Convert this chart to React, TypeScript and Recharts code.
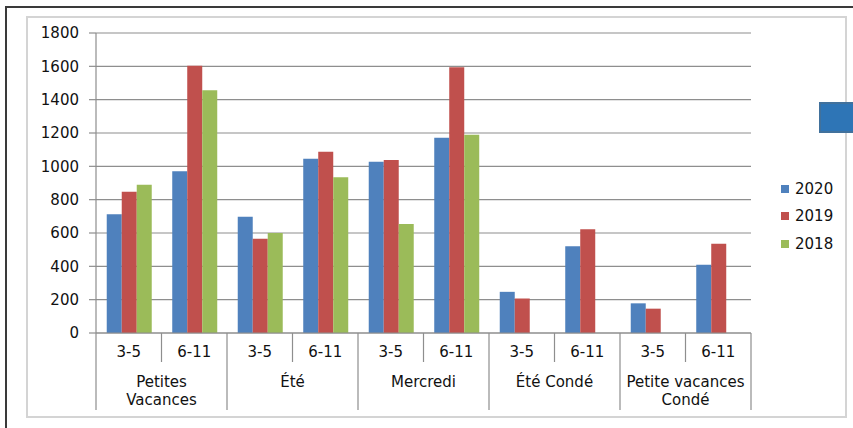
import React from 'react';
import { BarChart, Bar, XAxis, YAxis, CartesianGrid, Legend } from 'recharts';

const ages = ['3-5', '6-11', '3-5', '6-11', '3-5', '6-11', '3-5', '6-11', '3-5', '6-11'];
const groups = ['Petites\nVacances', 'Été', 'Mercredi', 'Été Condé', 'Petite vacances\nCondé'];
const v2020 = [712, 970, 698, 1046, 1027, 1172, 247, 520, 178, 409];
const v2019 = [848, 1603, 565, 1088, 1038, 1594, 207, 622, 146, 535];
const v2018 = [890, 1457, 600, 934, 654, 1190, null, null, null, null];
const yTicks = [0, 200, 400, 600, 800, 1000, 1200, 1400, 1600, 1800];
const seriesOrder = ['2020', '2019', '2018'];

const data = ages.map((age, i) => ({
  age,
  '2020': v2020[i],
  '2019': v2019[i],
  '2018': v2018[i],
}));

const W = 853;
const H = 428;
const M = { top: 33, right: 102, bottom: 15, left: 36 };
const Y_AXIS_W = 60;
const PLOT_W = W - M.left - M.right - Y_AXIS_W;
const BAND = PLOT_W / ages.length;

const FONT = '"DejaVu Sans", sans-serif';
const FS = 15;
const GRID = '#8e8e8e';

const GroupTick = (props: any) => {
  const { x, y, payload } = props;
  const i = payload.index;
  const left = x - BAND / 2;
  const isGroupStart = i % 2 === 0;
  const lines = isGroupStart ? groups[i / 2].split('\n') : [];
  return (
    <g>
      <line x1={left} y1={y} x2={left} y2={y + (isGroupStart ? 77 : 29)} stroke={GRID} strokeWidth={1.2} />
      {i === ages.length - 1 && (
        <line x1={x + BAND / 2} y1={y} x2={x + BAND / 2} y2={y + 77} stroke={GRID} strokeWidth={1.2} />
      )}
      <text x={x} y={y + 24} textAnchor="middle" fontSize={FS} fontFamily={FONT} fill="#111">
        {payload.value}
      </text>
      {lines.map((ln: string, k: number) => (
        <text key={k} x={x + BAND / 2} y={y + 54 + k * 18} textAnchor="middle" fontSize={FS} fontFamily={FONT} fill="#111">
          {ln}
        </text>
      ))}
    </g>
  );
};

const LegendContent = (props: any) => {
  const items = [...(props.payload || [])].sort(
    (a: any, b: any) => seriesOrder.indexOf(String(a.value)) - seriesOrder.indexOf(String(b.value))
  );
  return (
    <div style={{ fontFamily: FONT, fontSize: FS, color: '#111' }}>
      {items.map((p: any) => (
        <div key={p.value} style={{ display: 'flex', alignItems: 'center', height: 27.5 }}>
          <span style={{ display: 'inline-block', width: 8, height: 8, background: p.color, marginRight: 6 }} />
          <span>{p.value}</span>
        </div>
      ))}
    </div>
  );
};

export default function App() {
  return (
    <div style={{ position: 'absolute', left: 0, top: 0, width: W, height: H, background: '#fff', overflow: 'hidden' }}>
      <div style={{ position: 'absolute', left: 5, top: 6, width: 900, height: 500, border: '2px solid #3a3a3a', boxSizing: 'border-box' }} />
      <div style={{ position: 'absolute', left: 26, top: 16, width: 821, height: 402, border: '2px solid #d4d4d4', boxSizing: 'border-box' }} />
      <div style={{ position: 'absolute', left: 819, top: 102, width: 40, height: 31, background: '#2E75B6', border: '2px solid #41719C', boxSizing: 'border-box' }} />
      <div style={{ position: 'absolute', left: 0, top: 0 }}>
        <BarChart
          width={W}
          height={H}
          data={data}
          margin={M}
          barGap={0}
          barCategoryGap="16.4%"
        >
          <CartesianGrid vertical={false} stroke={GRID} strokeWidth={1.2} />
          <XAxis
            dataKey="age"
            interval={0}
            tickLine={false}
            tickSize={0}
            tickMargin={0}
            height={80}
            axisLine={{ stroke: GRID, strokeWidth: 1.2 }}
            tick={<GroupTick />}
          />
          <YAxis
            width={Y_AXIS_W}
            domain={[0, 1800]}
            ticks={yTicks}
            interval={0}
            tickSize={7}
            tickMargin={10}
            axisLine={{ stroke: GRID, strokeWidth: 1.2 }}
            tickLine={{ stroke: GRID, strokeWidth: 1.2 }}
            tick={{ fontSize: FS, fontFamily: FONT, fill: '#111' }}
          />
          <Legend
            layout="horizontal"
            align="center"
            verticalAlign="middle"
            content={<LegendContent />}
            wrapperStyle={{ left: 781, top: 175, width: 70 }}
          />
          <Bar dataKey="2020" fill="#4F81BD" isAnimationActive={false} />
          <Bar dataKey="2019" fill="#C0504D" isAnimationActive={false} />
          <Bar dataKey="2018" fill="#9BBB59" isAnimationActive={false} />
        </BarChart>
      </div>
    </div>
  );
}
